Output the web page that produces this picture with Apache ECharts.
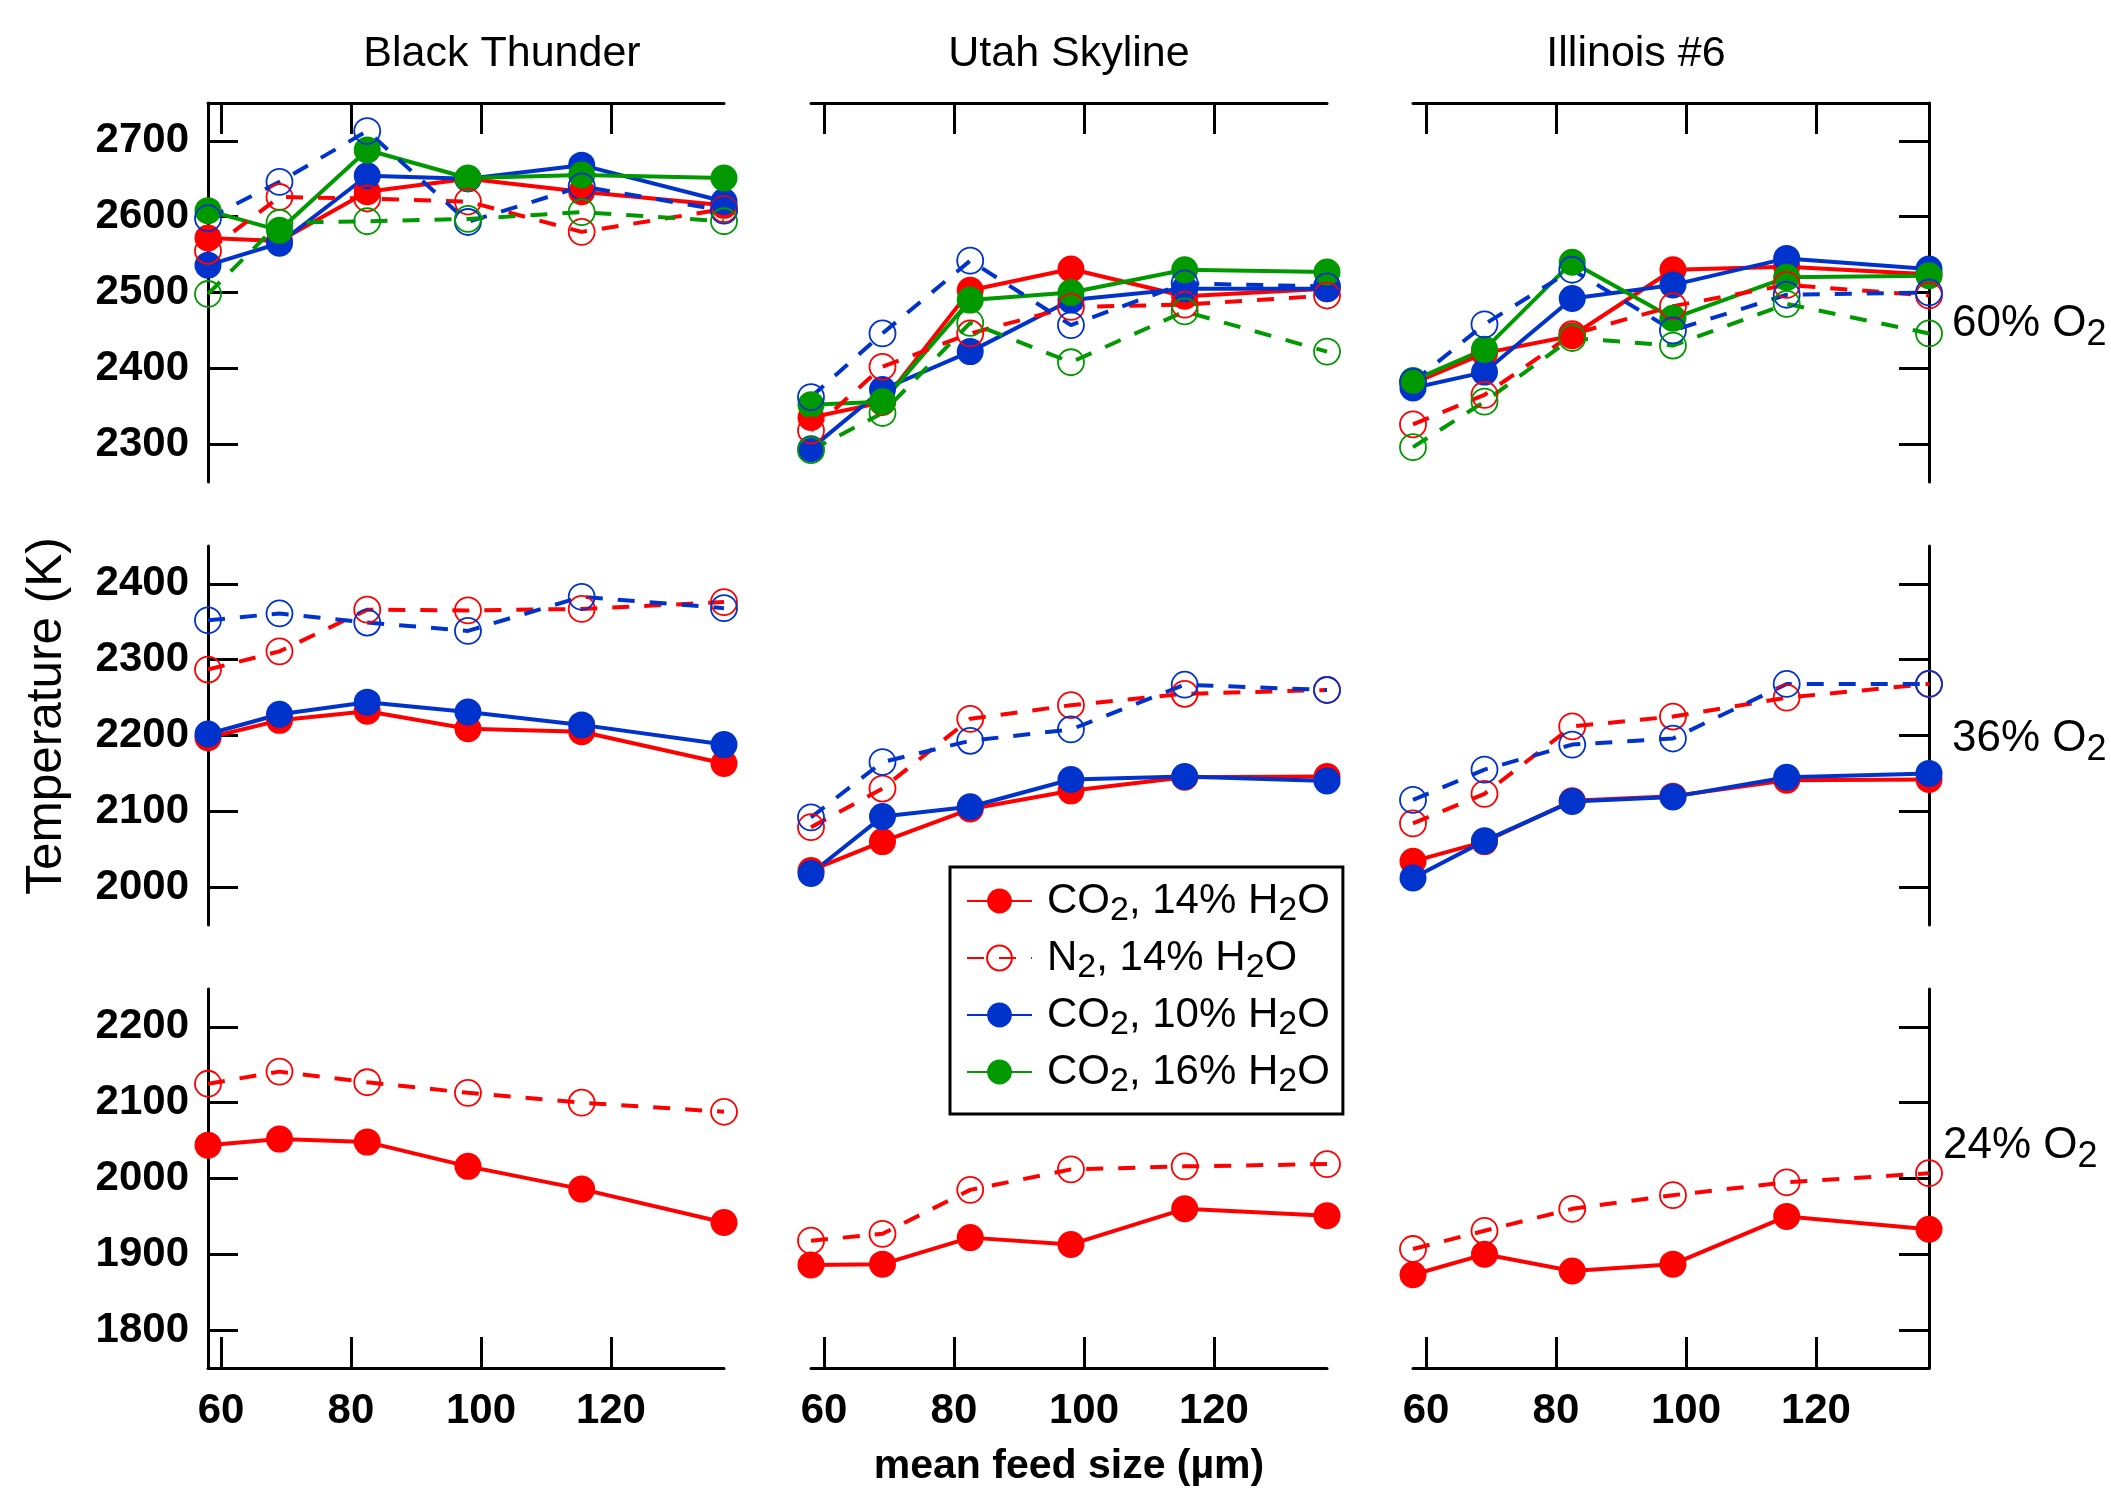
<!DOCTYPE html>
<html>
<head>
<meta charset="utf-8">
<script src="https://cdn.jsdelivr.net/npm/echarts@6/dist/echarts.min.js"></script>
<style>
  html, body { margin: 0; padding: 0; background: #fff; }
  #main { width: 2111px; height: 1489px; }
</style>
</head>
<body>
<div id="main"></div>
<script>
// mean feed size (µm), same for every panel
const feedSize = [58, 69, 82.5, 98, 115.5, 137.4];
const coals = ['Black Thunder', 'Utah Skyline', 'Illinois #6'];
const oxygenLabels = ['60% O2', '36% O2', '24% O2'];
const xTicks = [60, 80, 100, 120];
const yTicks = [
    [2300, 2400, 2500, 2600, 2700],
    [2000, 2100, 2200, 2300, 2400],
    [1800, 1900, 2000, 2100, 2200]
];

// 60% O2
const bt60_co2_14 = [2572, 2568, 2633, 2650, 2633, 2615];
const bt60_n2_14  = [2555, 2626, 2624, 2620, 2580, 2610];
const bt60_co2_10 = [2536, 2565, 2654, 2650, 2668, 2620];
const bt60_n2_10  = [2598, 2646, 2713, 2593, 2640, 2608];
const bt60_co2_16 = [2608, 2582, 2688, 2651, 2655, 2651];
const bt60_n2_16  = [2498, 2592, 2594, 2597, 2606, 2594];

const us60_co2_14 = [2335, 2355, 2503, 2531, 2495, 2505];
const us60_n2_14  = [2318, 2402, 2446, 2481, 2484, 2496];
const us60_co2_10 = [2294, 2372, 2422, 2490, 2505, 2505];
const us60_n2_10  = [2362, 2446, 2542, 2457, 2512, 2508];
const us60_co2_16 = [2352, 2356, 2490, 2500, 2530, 2527];
const us60_n2_16  = [2292, 2341, 2460, 2408, 2475, 2422];

const il60_co2_14 = [2380, 2420, 2443, 2530, 2534, 2524];
const il60_n2_14  = [2326, 2365, 2445, 2482, 2510, 2496];
const il60_co2_10 = [2374, 2395, 2492, 2510, 2545, 2531];
const il60_n2_10  = [2382, 2458, 2530, 2450, 2497, 2500];
const il60_co2_16 = [2384, 2425, 2540, 2466, 2520, 2522];
const il60_n2_16  = [2296, 2356, 2440, 2430, 2485, 2446];

// 36% O2
const bt36_co2_14 = [2197, 2220, 2232, 2209, 2205, 2163];
const bt36_n2_14  = [2287, 2311, 2366, 2365, 2367, 2376];
const bt36_co2_10 = [2202, 2228, 2244, 2231, 2214, 2188];
const bt36_n2_10  = [2352, 2361, 2349, 2338, 2383, 2368];

const us36_co2_14 = [2022, 2060, 2103, 2127, 2145, 2146];
const us36_n2_14  = [2079, 2130, 2222, 2240, 2255, 2260];
const us36_co2_10 = [2018, 2093, 2106, 2142, 2146, 2140];
const us36_n2_10  = [2092, 2165, 2193, 2208, 2267, 2260];

const il36_co2_14 = [2034, 2060, 2114, 2120, 2141, 2142];
const il36_n2_14  = [2084, 2123, 2212, 2225, 2250, 2268];
const il36_co2_10 = [2012, 2061, 2113, 2119, 2145, 2150];
const il36_n2_10  = [2115, 2155, 2188, 2196, 2268, 2268];

// 24% O2
const bt24_co2_14 = [2044, 2052, 2048, 2016, 1986, 1942];
const bt24_n2_14  = [2125, 2141, 2127, 2113, 2100, 2088];
const us24_co2_14 = [1886, 1887, 1922, 1913, 1960, 1951];
const us24_n2_14  = [1918, 1927, 1985, 2012, 2016, 2019];
const il24_co2_14 = [1873, 1900, 1878, 1887, 1950, 1933];
const il24_n2_14  = [1907, 1931, 1960, 1978, 1995, 2007];

// trace look, in drawing order
const RED = '#FF0000', BLUE = '#0033CC', GREEN = '#009900';
const traces = [
    { name: 'CO2, 14% H2O', color: RED,   open: false },
    { name: 'CO2, 10% H2O', color: BLUE,  open: false },
    { name: 'CO2, 16% H2O', color: GREEN, open: false },
    { name: 'N2, 14% H2O',  color: RED,   open: true },
    { name: 'N2, 10% H2O',  color: BLUE,  open: true },
    { name: 'N2, 16% H2O',  color: GREEN, open: true }
];

// panel -> values per trace (same order as traces), rows = O2 level, cols = coal
const panels = [
    [
        [bt60_co2_14, bt60_co2_10, bt60_co2_16, bt60_n2_14, bt60_n2_10, bt60_n2_16],
        [us60_co2_14, us60_co2_10, us60_co2_16, us60_n2_14, us60_n2_10, us60_n2_16],
        [il60_co2_14, il60_co2_10, il60_co2_16, il60_n2_14, il60_n2_10, il60_n2_16]
    ],
    [
        [bt36_co2_14, bt36_co2_10, null, bt36_n2_14, bt36_n2_10, null],
        [us36_co2_14, us36_co2_10, null, us36_n2_14, us36_n2_10, null],
        [il36_co2_14, il36_co2_10, null, il36_n2_14, il36_n2_10, null]
    ],
    [
        [bt24_co2_14, null, null, bt24_n2_14, null, null],
        [us24_co2_14, null, null, us24_n2_14, null, null],
        [il24_co2_14, null, null, il24_n2_14, null, null]
    ]
];

const FONT = 'Liberation Sans';
const colLeft = [208, 811, 1413];
const rowTop = [103, 546, 989];
const panelW = 516, panelH = 379;
const yRange = [[2250, 2750], [1950, 2450], [1750, 2250]];

function subText(s) {
    return '{n|' + s.replace(/([A-Z])2/g, '$1}{s|2}{n|') + '}';
}

var chartDom = document.getElementById('main');
var myChart = echarts.init(chartDom);

var grids = [], xAxes = [], yAxes = [], series = [];
var axisLine = { show: true, onZero: false, lineStyle: { color: '#000', width: 3 } };

for (let r = 0; r < 3; r++) {
    for (let c = 0; c < 3; c++) {
        const idx = r * 3 + c;
        grids.push({ left: colLeft[c], top: rowTop[r], width: panelW, height: panelH });
        xAxes.push({
            type: 'value', gridIndex: idx, min: 58, max: 137.4,
            show: r !== 1,
            position: r === 0 ? 'top' : 'bottom',
            axisLine: axisLine,
            axisTick: { show: true, inside: true, length: 31, customValues: xTicks,
                lineStyle: { color: '#000', width: 3 } },
            axisLabel: { show: r === 2, customValues: xTicks, margin: 22,
                color: '#000', fontSize: 42, fontWeight: 'bold', fontFamily: FONT },
            splitLine: { show: false }
        });
        yAxes.push({
            type: 'value', gridIndex: idx, min: yRange[r][0], max: yRange[r][1],
            show: c !== 1,
            position: c === 0 ? 'left' : 'right',
            axisLine: axisLine,
            axisTick: { show: true, inside: true, length: 30, customValues: yTicks[r],
                lineStyle: { color: '#000', width: 3 } },
            axisLabel: { show: c === 0, customValues: yTicks[r], margin: 19,
                formatter: v => String(v),
                color: '#000', fontSize: 42, fontWeight: 'bold', fontFamily: FONT },
            splitLine: { show: false }
        });
        traces.forEach((t, k) => {
            const vals = panels[r][c][k];
            if (!vals) return;
            series.push({
                name: t.name,
                type: 'line',
                xAxisIndex: idx,
                yAxisIndex: idx,
                clip: false,
                symbol: 'circle',
                symbolSize: t.open ? 26 : 27,
                data: feedSize.map((x, i) => [x, vals[i]]),
                lineStyle: { color: t.color, width: 4, type: t.open ? [17, 15] : 'solid' },
                itemStyle: t.open
                    ? { color: 'transparent', borderColor: t.color, borderWidth: 1.8 }
                    : { color: t.color, borderWidth: 0 },
                emphasis: { disabled: true },
                animation: false
            });
        });
    }
}

var graphics = [];
const titleX = [502, 1069, 1636];
coals.forEach((name, c) => {
    graphics.push({ type: 'text', x: titleX[c], y: 54, style: {
        text: name, fill: '#000', fontSize: 43, fontFamily: FONT,
        align: 'center', verticalAlign: 'middle' } });
});
const o2Pos = [[1952, 324], [1952, 739], [1943, 1146]];
oxygenLabels.forEach((name, r) => {
    graphics.push({ type: 'text', x: o2Pos[r][0], y: o2Pos[r][1], style: {
        text: subText(name), fill: '#000', fontSize: 44, fontFamily: FONT,
        align: 'left', verticalAlign: 'middle',
        rich: {
            n: { fontSize: 44, fontFamily: FONT, fill: '#000', lineHeight: 58 },
            s: { fontSize: 36, fontFamily: FONT, fill: '#000', lineHeight: 36, verticalAlign: 'bottom' }
        } } });
});
graphics.push({ type: 'text', x: 47, y: 716, rotation: Math.PI / 2, style: {
    text: 'Temperature (K)', fill: '#000', fontSize: 49.5, fontFamily: FONT,
    align: 'center', verticalAlign: 'middle' } });
graphics.push({ type: 'text', x: 1069, y: 1467, style: {
    text: 'mean feed size (µm)', fill: '#000', fontSize: 41, fontWeight: 'bold', fontFamily: FONT,
    align: 'center', verticalAlign: 'middle' } });

var option = {
    backgroundColor: '#fff',
    animation: false,
    grid: grids,
    xAxis: xAxes,
    yAxis: yAxes,
    legend: {
        data: ['CO2, 14% H2O', 'N2, 14% H2O', 'CO2, 10% H2O', 'CO2, 16% H2O'],
        orient: 'vertical',
        left: 950,
        top: 867,
        padding: [13, 13, 15, 16],
        itemGap: 9,
        itemWidth: 65,
        itemHeight: 31,
        borderColor: '#000',
        borderWidth: 3,
        backgroundColor: '#fff',
        selectedMode: false,
        formatter: name => '{g|}' + subText(name),
        textStyle: {
            color: '#000', fontSize: 42, fontFamily: FONT,
            rich: {
                g: { width: 10, lineHeight: 54 },
                n: { color: '#000', fontSize: 42, fontFamily: FONT, lineHeight: 54 },
                s: { color: '#000', fontSize: 34, fontFamily: FONT, lineHeight: 34, verticalAlign: 'bottom' }
            }
        }
    },
    graphic: graphics,
    series: series
};

option && myChart.setOption(option);
</script>
</body>
</html>
